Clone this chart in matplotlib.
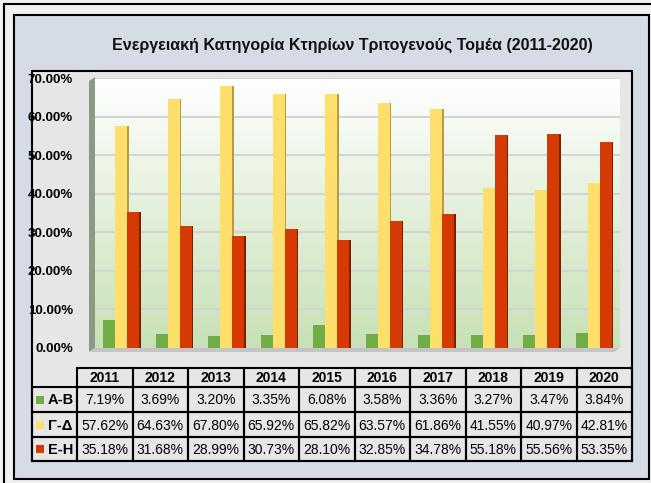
import numpy as np
import matplotlib.pyplot as plt
from matplotlib.patches import Rectangle, Polygon

years = ["2011", "2012", "2013", "2014", "2015", "2016", "2017", "2018", "2019", "2020"]
series_names = ["Α-Β", "Γ-Δ", "Ε-Η"]
ab = [7.19, 3.69, 3.20, 3.35, 6.08, 3.58, 3.36, 3.27, 3.47, 3.84]
gd = [57.62, 64.63, 67.80, 65.92, 65.82, 63.57, 61.86, 41.55, 40.97, 42.81]
eh = [35.18, 31.68, 28.99, 30.73, 28.10, 32.85, 34.78, 55.18, 55.56, 53.35]
yticks = [0, 10, 20, 30, 40, 50, 60, 70]

colors = ["#70ad47", "#ffdf6b", "#d63a04"]
side_colors = ["#4a7a2a", "#b89a40", "#7a2000"]

plt.rcParams["font.family"] = ["Liberation Sans", "DejaVu Sans"]

W, H = 651, 483
fig = plt.figure(figsize=(W / 100, H / 100), dpi=100)
fig.patch.set_facecolor("#f2f2f2")


def px_rect(x0, y0, x1, y1):
    # pixel box (top-left origin) -> figure fraction rect
    return [x0 / W, 1 - y1 / H, (x1 - x0) / W, (y1 - y0) / H]


# frames
bg = fig.add_axes([0, 0, 1, 1])
bg.set_xlim(0, W)
bg.set_ylim(H, 0)
bg.axis("off")
bg.add_patch(Rectangle((4, 4), W + 10, H + 10, fc="#f0f0f0", ec="black", lw=1.5))
bg.add_patch(Rectangle((14, 15), 635, 464, fc="#d5dce6", ec="black", lw=1.5))
bg.add_patch(Rectangle((32, 71), 600, 390, fc="#e6e6e6", ec="black", lw=1.5))

# side wall and floor of the 3-D plot area
bg.add_patch(Polygon([(89, 81), (95, 77), (95, 348), (89, 352)],
                     closed=True, fc="#8c9a84", ec="none"))
bg.add_patch(Polygon([(89, 352), (95, 348), (620, 348), (614, 352)],
                     closed=True, fc="#c4c4c4", ec="none"))

fig.text(352 / W, 1 - 45 / H, "Ενεργειακή Κατηγορία Κτηρίων Τριτογενούς Τομέα (2011-2020)",
         ha="center", va="center", fontsize=11.5, fontweight="bold", color="#111111")

# plot area
ax = fig.add_axes(px_rect(95, 78, 620, 348))
grad = np.linspace(0, 1, 256).reshape(-1, 1)
top = np.array([1.0, 1.0, 1.0])
bottom = np.array([0.78, 0.88, 0.71])
img = top + (bottom - top) * grad[..., None]
ax.imshow(img, extent=(0, 1, 0, 1), transform=ax.transAxes, aspect="auto", zorder=0)

x = np.arange(len(years))
bw = 0.23
side = 0.04
for i, vals in enumerate([ab, gd, eh]):
    pos = x + (i - 1) * bw
    ax.bar(pos, vals, width=bw, color=colors[i], zorder=3, linewidth=0)
    ax.bar(pos + bw / 2 + side / 2 - 0.01, vals, width=side, color=side_colors[i],
           zorder=2, linewidth=0)

ax.set_xlim(-0.5, 9.5)
ax.set_ylim(0, 70)
ax.set_yticks(yticks)
ax.set_yticklabels([f"{v:.2f}%" for v in yticks], fontsize=9.5, fontweight="bold")
ax.tick_params(axis="y", length=0, pad=16)
ax.set_xticks([])
ax.grid(axis="y", color="#d4d4d4", lw=1.5, zorder=1)
for s in ax.spines.values():
    s.set_visible(False)

# data table
tab = fig.add_axes([0, 0, 1, 1], zorder=5)
tab.set_xlim(0, W)
tab.set_ylim(H, 0)
tab.axis("off")
x0, lab_w, col_w = 32, 45, 55.5
row_y = [368, 387, 412, 437, 461]

# header cells
for j, yr in enumerate(years):
    cx = x0 + lab_w + j * col_w
    tab.add_patch(Rectangle((cx, row_y[0]), col_w, row_y[1] - row_y[0],
                            fc="none", ec="black", lw=1.5))
    tab.text(cx + col_w / 2, (row_y[0] + row_y[1]) / 2 + 1, yr, ha="center", va="center",
             fontsize=10, fontweight="bold")

for r, (name, vals) in enumerate(zip(series_names, [ab, gd, eh])):
    ya, yb = row_y[r + 1], row_y[r + 2]
    tab.add_patch(Rectangle((x0, ya), lab_w, yb - ya, fc="none", ec="black", lw=1.5))
    tab.add_patch(Rectangle((x0 + 4, (ya + yb) / 2 - 4), 8, 8, fc=colors[r], ec="none"))
    tab.text(x0 + 16, (ya + yb) / 2 + 1, name, ha="left", va="center",
             fontsize=10.5, fontweight="bold")
    for j, v in enumerate(vals):
        cx = x0 + lab_w + j * col_w
        tab.add_patch(Rectangle((cx, ya), col_w, yb - ya, fc="none", ec="black", lw=1.5))
        tab.text(cx + col_w / 2, (ya + yb) / 2 + 1, f"{v:.2f}%", ha="center", va="center",
                 fontsize=10)

fig.savefig("out.png", dpi=100)
